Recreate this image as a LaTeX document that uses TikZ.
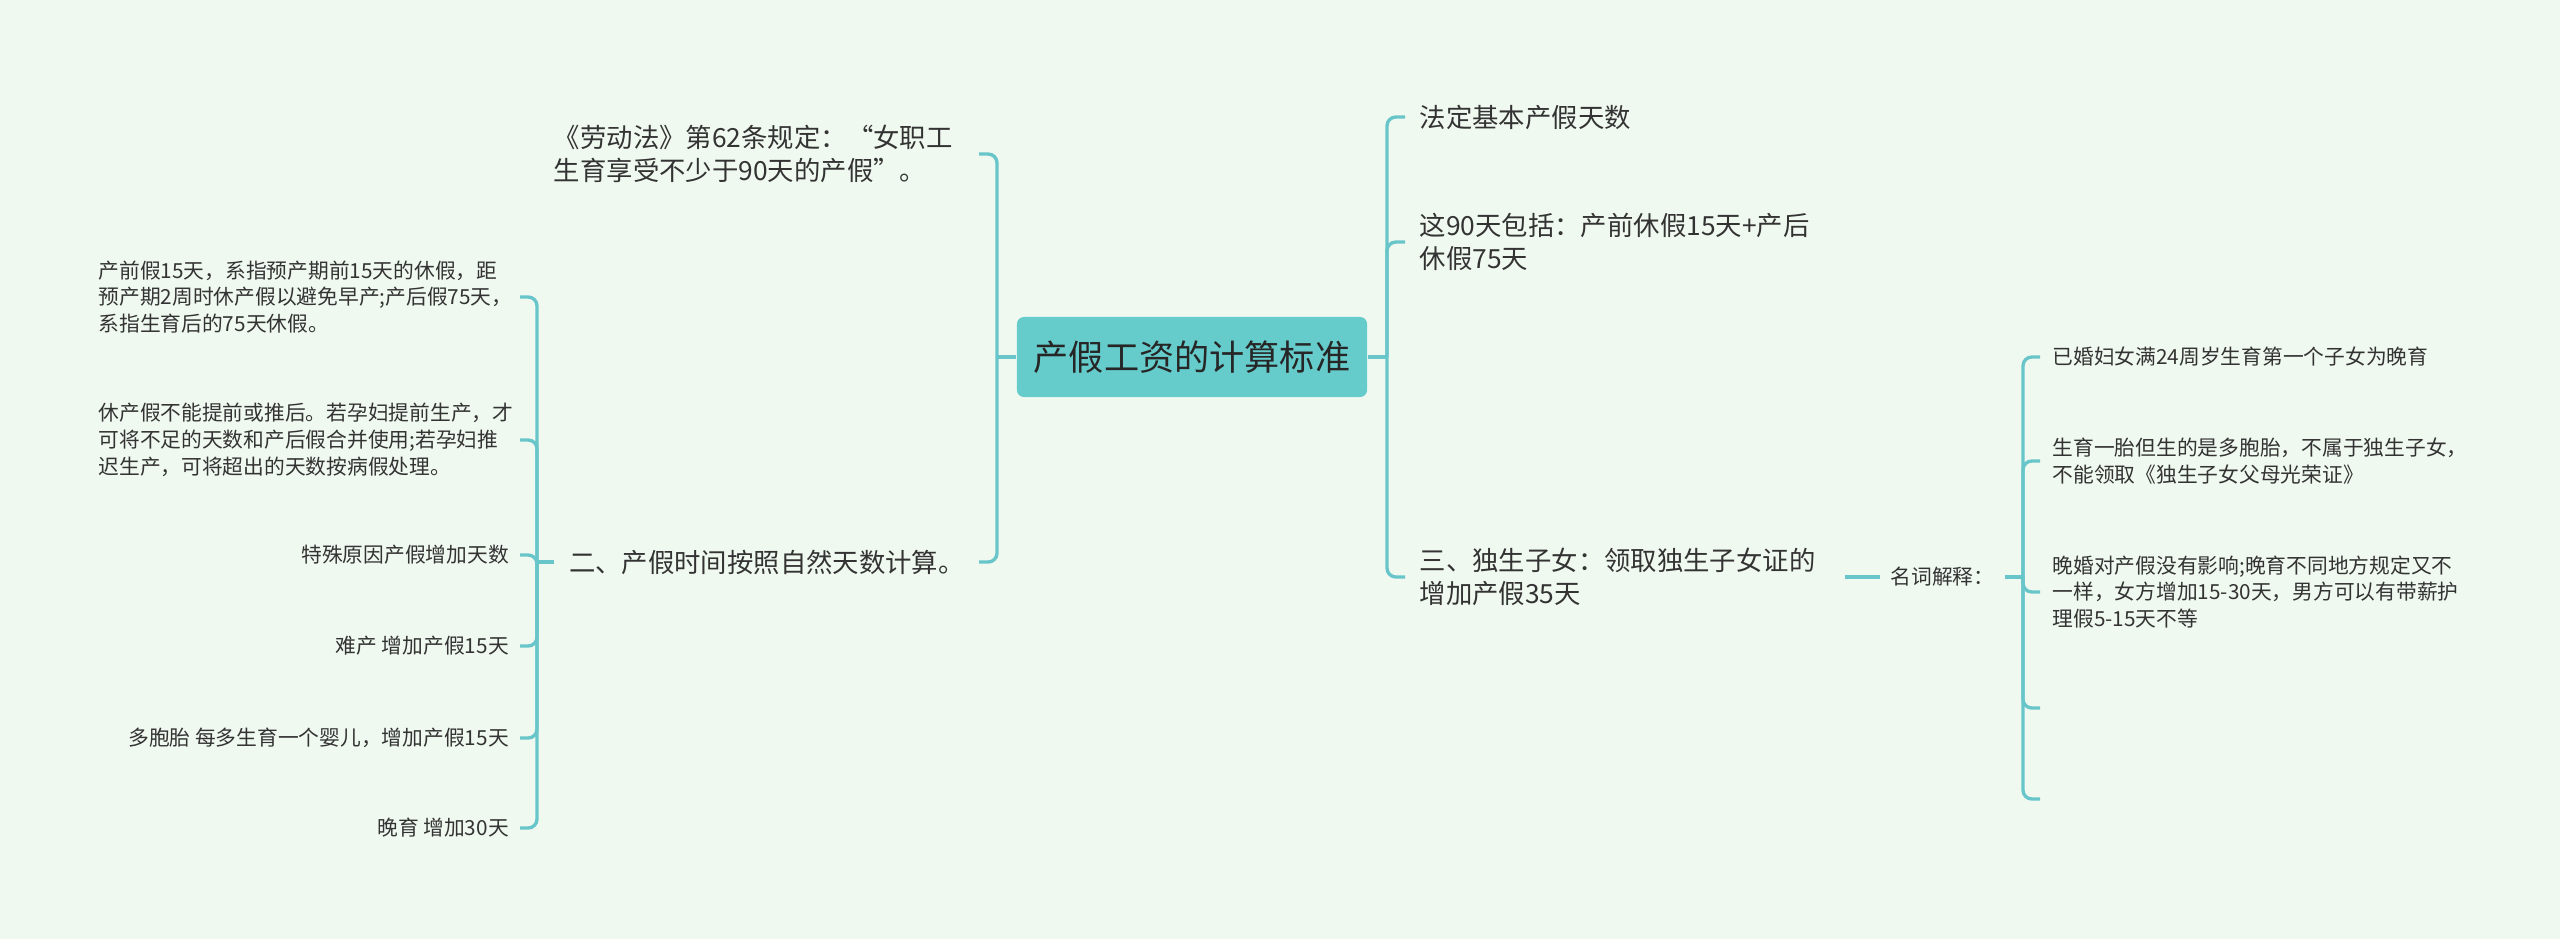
\documentclass[tikz,border=0pt]{standalone}
\usepackage{fontspec}
\setmainfont{Noto Sans CJK SC}
\definecolor{bgmint}{RGB}{240,249,240}
\definecolor{tealline}{RGB}{104,197,201}
\definecolor{tealbox}{RGB}{102,203,203}
\definecolor{inkgray}{RGB}{51,51,51}
\tikzset{
  link/.style={draw=tealline, line width=0.95pt, rounded corners=2.5pt},
  rootbox/.style={fill=tealbox, rounded corners=2pt, minimum width=3.5cm,
                  minimum height=0.8cm, inner sep=0pt, text=black!85,
                  font=\fontsize{10}{12}\selectfont},
  topic/.style={inner xsep=4pt, inner ysep=2pt, text=inkgray, align=left,
                font=\fontsize{7.5}{9.6}\selectfont},
  leaf/.style={inner xsep=3pt, inner ysep=2pt, text=inkgray,
               font=\fontsize{5.9}{7.6}\selectfont},
}
\begin{document}
\begin{tikzpicture}[x=0.01cm, y=-0.01cm]
  \fill[bgmint] (0,0) rectangle (2560,939);
  \useasboundingbox (0,0) rectangle (2560,939);

  % root
  \node[rootbox] (root) at (1192,357) {产假工资的计算标准};

  % left topics
  \node[topic, anchor=east, text width=4.1cm] (law) at (979,154)
    {《劳动法》第62条规定：“女职工\\生育享受不少于90天的产假”。};
  \node[topic, anchor=east, text width=3.95cm] (natural) at (979,562)
    {二、产假时间按照自然天数计算。};

  % leaves of natural
  \node[leaf, anchor=east, text width=4.1cm, align=left] (pre) at (520,297)
    {产前假15天，系指预产期前15天的休假，距\\预产期2周时休产假以避免早产;产后假75天，\\系指生育后的75天休假。};
  \node[leaf, anchor=east, text width=4.1cm, align=left] (shift) at (520,440)
    {休产假不能提前或推后。若孕妇提前生产，才\\可将不足的天数和产后假合并使用;若孕妇推\\迟生产，可将超出的天数按病假处理。};
  \node[leaf, anchor=east, align=right] (special) at (520,555) {特殊原因产假增加天数};
  \node[leaf, anchor=east, align=right] (hard) at (520,646) {难产 增加产假15天};
  \node[leaf, anchor=east, align=right] (multi) at (520,738) {多胞胎 每多生育一个婴儿，增加产假15天};
  \node[leaf, anchor=east, align=right] (late) at (520,828) {晚育 增加30天};

  % right topics
  \node[topic, anchor=west, text width=4.1cm] (basic) at (1405,117) {法定基本产假天数};
  \node[topic, anchor=west, text width=4.1cm] (ninety) at (1405,242)
    {这90天包括：产前休假15天+产后\\休假75天};
  \node[topic, anchor=west, text width=4.1cm] (only) at (1405,577)
    {三、独生子女：领取独生子女证的\\增加产假35天};

  % glossary
  \node[leaf, anchor=west, inner xsep=2.8pt] (gloss) at (1880,577) {名词解释：};
  \node[leaf, anchor=west, inner xsep=3.4pt, text width=4.1cm, align=left] (wed) at (2040,357)
    {已婚妇女满24周岁生育第一个子女为晚育};
  \node[leaf, anchor=west, inner xsep=3.4pt, text width=4.1cm, align=left] (twins) at (2040,461)
    {生育一胎但生的是多胞胎，不属于独生子女，\\不能领取《独生子女父母光荣证》};
  \node[leaf, anchor=west, inner xsep=3.4pt, text width=4.1cm, align=left] (marry) at (2040,592)
    {晚婚对产假没有影响;晚育不同地方规定又不\\一样，女方增加15-30天，男方可以有带薪护\\理假5-15天不等};
  \coordinate (blank1) at (2040,708);
  \coordinate (blank2) at (2040,799);

  % brackets
  \coordinate (lbar) at (997,357);
  \coordinate (rbar) at (1387,357);
  \coordinate (sbar) at (537,562);
  \coordinate (gbar) at (2023,577);

  \draw[link] (root.west) -- (lbar);
  \draw[link] (lbar) |- (law.east);
  \draw[link] (lbar) |- (natural.east);

  \draw[link] (natural.west) -- (sbar);
  \foreach \leafname in {pre,shift,special,hard,multi,late}
    \draw[link] (sbar) |- (\leafname.east);

  \draw[link] (root.east) -- (rbar);
  \foreach \topicname in {basic,ninety,only}
    \draw[link] (rbar) |- (\topicname.west);

  \draw[link] (only.east) -- (gloss.west);
  \draw[link] (gloss.east) -- (gbar);
  \foreach \leafname in {wed.west,twins.west,marry.west,blank1,blank2}
    \draw[link] (gbar) |- (\leafname);
\end{tikzpicture}
\end{document}
